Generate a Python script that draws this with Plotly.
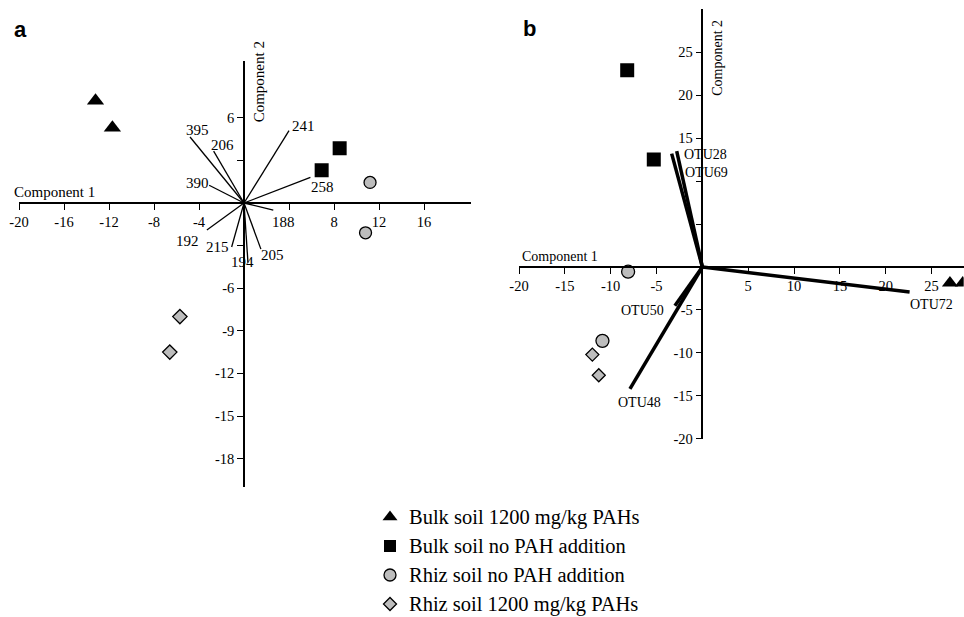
import plotly.graph_objects as go

# ---------------- data ----------------
groups = ["Bulk soil 1200 mg/kg PAHs", "Bulk soil no PAH addition",
          "Rhiz soil no PAH addition", "Rhiz soil 1200 mg/kg PAHs"]

# panel a sample scores
a_x = {
    groups[0]: [-13.2, -11.7],
    groups[1]: [8.5, 6.9],
    groups[2]: [11.2, 10.8],
    groups[3]: [-5.7, -6.6],
}
a_y = {
    groups[0]: [7.2, 5.3],
    groups[1]: [3.85, 2.3],
    groups[2]: [1.45, -2.1],
    groups[3]: [-8.0, -10.5],
}
# panel a loadings
a_vec_labels = ["241", "395", "206", "390", "258", "188", "192", "215", "194", "205"]
a_vec_x = [4.0, -4.8, -2.7, -3.1, 5.9, 2.6, -3.3, -1.1, 0.35, 1.5]
a_vec_y = [5.1, 4.65, 3.65, 1.25, 1.8, -0.5, -1.9, -3.1, -4.2, -3.25]

# panel b sample scores
b_x = {
    groups[0]: [27.0, 28.4],
    groups[1]: [-8.2, -5.3],
    groups[2]: [-8.1, -10.9],
    groups[3]: [-12.0, -11.3],
}
b_y = {
    groups[0]: [-1.85, -1.85],
    groups[1]: [22.9, 12.5],
    groups[2]: [-0.55, -8.6],
    groups[3]: [-10.2, -12.6],
}
# panel b loadings
b_vec_labels = ["OTU28", "OTU69", "OTU72", "OTU50", "OTU48"]
b_vec_x = [-2.8, -3.35, 22.6, -3.0, -7.9]
b_vec_y = [13.5, 13.2, -2.9, -4.5, -14.2]

# ticks
a_xticks = [-20, -16, -12, -8, -4, 4, 8, 12, 16]
a_xtext = ["-20", "-16", "-12", "-8", "-4", "", "8", "12", "16"]
a_yticks = [6, 3, -3, -6, -9, -12, -15, -18]
a_ytext = ["6", "", "", "-6", "-9", "-12", "-15", "-18"]
b_xticks = [-20, -15, -10, -5, 5, 10, 15, 20, 25]
b_xtext = ["-20", "-15", "-10", "-5", "5", "10", "15", "20", "25"]
b_yticks = [25, 20, 15, 10, 5, -5, -10, -15, -20]
b_ytext = ["25", "20", "15", "", "", "-5", "-10", "-15", "-20"]

# ---------------- styles ----------------
W, H = 964, 617
SERIF = "Liberation Serif"
GRAY = "#bdbdbd"
sym = {groups[0]: "triangle-up", groups[1]: "square",
       groups[2]: "circle", groups[3]: "diamond"}
fill = {groups[0]: "black", groups[1]: "black", groups[2]: GRAY, groups[3]: GRAY}
size_a = {groups[0]: 15, groups[1]: 14, groups[2]: 12, groups[3]: 11}
size_b = {groups[0]: 14, groups[1]: 14, groups[2]: 13, groups[3]: 10}
size_leg = {groups[0]: 13, groups[1]: 12, groups[2]: 12, groups[3]: 10}

# label offsets (px) relative to loading end points
a_off = {"241": (14, 5), "395": (7, 7), "206": (9, 6), "390": (-12, 2),
         "258": (12, -10), "188": (10, -12), "192": (-19, -11), "215": (-14, 0),
         "194": (-5, 1), "205": (12, -6)}
b_off = {"OTU28": (29, -3), "OTU69": (35, -19), "OTU72": (22, -13),
         "OTU50": (-32, -5), "OTU48": (10, -14)}

# axis geometry in pixels (range ends)
A_XR, A_YR = [-20, 20.2], [-20, 10]
B_XR, B_YR = [-20, 28.5], [-20, 30]
A_PX = (19.0, 471.3)   # left/right px for A_XR
A_PY = (487.0, 61.0)   # bottom/top px for A_YR
B_PX = (519.0, 963.7)
B_PY = (438.8, 9.3)

# legend geometry (px)
LEG_MX, LEG_TX = 390, 407
LEG_Y0, LEG_DY = 517, 29


def xdom(px):
    return [px[0] / W, px[1] / W]


def ydom(py):
    return [1 - py[0] / H, 1 - py[1] / H]


def zero_pos_x(rng, px):
    return (px[0] + (0 - rng[0]) / (rng[1] - rng[0]) * (px[1] - px[0])) / W


def zero_pos_y(rng, py):
    return 1 - (py[0] + (0 - rng[0]) / (rng[1] - rng[0]) * (py[1] - py[0])) / H


fig = go.Figure()

# loadings lines
def vec_trace(xs, ys, xa, ya, width):
    lx, ly = [], []
    for x, y in zip(xs, ys):
        lx += [0, x, None]
        ly += [0, y, None]
    return go.Scatter(x=lx, y=ly, mode="lines", xaxis=xa, yaxis=ya,
                      line=dict(color="black", width=width),
                      showlegend=False, hoverinfo="skip")

fig.add_trace(vec_trace(a_vec_x, a_vec_y, "x", "y", 1.3))
fig.add_trace(vec_trace(b_vec_x, b_vec_y, "x2", "y2", 3.5))

# sample points
ann = []
for i, g in enumerate(groups):
    line_w = 1.3 if fill[g] == GRAY else 0
    fig.add_trace(go.Scatter(
        x=a_x[g], y=a_y[g], mode="markers", name=g, showlegend=False,
        xaxis="x", yaxis="y",
        marker=dict(symbol=sym[g], size=size_a[g], color=fill[g],
                    line=dict(color="black", width=line_w))))
    fig.add_trace(go.Scatter(
        x=b_x[g], y=b_y[g], mode="markers", name=g, showlegend=False,
        xaxis="x2", yaxis="y2",
        marker=dict(symbol=sym[g], size=size_b[g], color=fill[g],
                    line=dict(color="black", width=line_w))))
    # manual legend (pixel-space helper axes)
    ly = LEG_Y0 + i * LEG_DY
    fig.add_trace(go.Scatter(
        x=[LEG_MX], y=[ly], mode="markers", name=g, showlegend=False,
        xaxis="x3", yaxis="y3", hoverinfo="skip",
        marker=dict(symbol=sym[g], size=size_leg[g], color=fill[g],
                    line=dict(color="black", width=line_w))))
    ann.append(dict(x=LEG_TX, y=ly, xref="x3", yref="y3", text=g,
                    showarrow=False, xanchor="left", yanchor="middle",
                    font=dict(family=SERIF, size=20.5, color="black")))

tfont = dict(family=SERIF, size=15, color="black")
for lab, x, y in zip(a_vec_labels, a_vec_x, a_vec_y):
    dx, dy = a_off[lab]
    ann.append(dict(x=x, y=y, xref="x", yref="y", text=lab, showarrow=False,
                    xshift=dx, yshift=dy, font=tfont))
bfont = dict(family=SERIF, size=14, color="black")
for lab, x, y in zip(b_vec_labels, b_vec_x, b_vec_y):
    dx, dy = b_off[lab]
    ann.append(dict(x=x, y=y, xref="x2", yref="y2", text=lab, showarrow=False,
                    xshift=dx, yshift=dy, font=bfont))

# axis titles and panel letters
ann += [
    dict(x=-20, y=0, xref="x", yref="y", text="Component 1", showarrow=False,
         xanchor="left", yanchor="bottom", xshift=-7, yshift=1, font=tfont),
    dict(x=0, y=8.5, xref="x", yref="y", text="Component 2", showarrow=False,
         textangle=-90, xshift=15, font=tfont),
    dict(x=-20, y=0, xref="x2", yref="y2", text="Component 1", showarrow=False,
         xanchor="left", yanchor="bottom", xshift=1, yshift=1, font=bfont),
    dict(x=0, y=24.4, xref="x2", yref="y2", text="Component 2", showarrow=False,
         textangle=-90, xshift=15, font=bfont),
    dict(x=12 / W, y=1 - 30 / H, xref="paper", yref="paper", text="<b>a</b>",
         showarrow=False, xanchor="left", yanchor="middle",
         font=dict(family="Liberation Sans", size=22, color="black")),
    dict(x=521 / W, y=1 - 29 / H, xref="paper", yref="paper", text="<b>b</b>",
         showarrow=False, xanchor="left", yanchor="middle",
         font=dict(family="Liberation Sans", size=22, color="black")),
]

axis_common = dict(showgrid=False, zeroline=False, showline=True,
                   linecolor="black", linewidth=1.5, ticks="outside",
                   ticklen=6, tickwidth=1.3, tickcolor="black",
                   tickfont=dict(family=SERIF, size=14.5, color="black"),
                   anchor="free", fixedrange=True, automargin=False)

fig.update_layout(
    width=W, height=H, autosize=False,
    margin=dict(l=0, r=0, t=0, b=0, pad=0),
    paper_bgcolor="white", plot_bgcolor="rgba(0,0,0,0)",
    xaxis=dict(axis_common, range=A_XR, domain=xdom(A_PX),
               position=zero_pos_y(A_YR, A_PY),
               tickmode="array", tickvals=a_xticks, ticktext=a_xtext),
    yaxis=dict(axis_common, range=A_YR, domain=ydom(A_PY),
               position=zero_pos_x(A_XR, A_PX),
               tickmode="array", tickvals=a_yticks, ticktext=a_ytext),
    xaxis2=dict(axis_common, range=B_XR, domain=xdom(B_PX),
                position=zero_pos_y(B_YR, B_PY),
                tickmode="array", tickvals=b_xticks, ticktext=b_xtext),
    yaxis2=dict(axis_common, range=B_YR, domain=ydom(B_PY),
                position=zero_pos_x(B_XR, B_PX),
                tickmode="array", tickvals=b_yticks, ticktext=b_ytext),
    xaxis3=dict(range=[0, W], domain=[0, 1], visible=False, fixedrange=True,
                anchor="y3"),
    yaxis3=dict(range=[H, 0], domain=[0, 1], visible=False, fixedrange=True,
                anchor="x3"),
    annotations=ann,
    showlegend=False,
)

fig.write_html("out.html", config={"displayModeBar": False})
